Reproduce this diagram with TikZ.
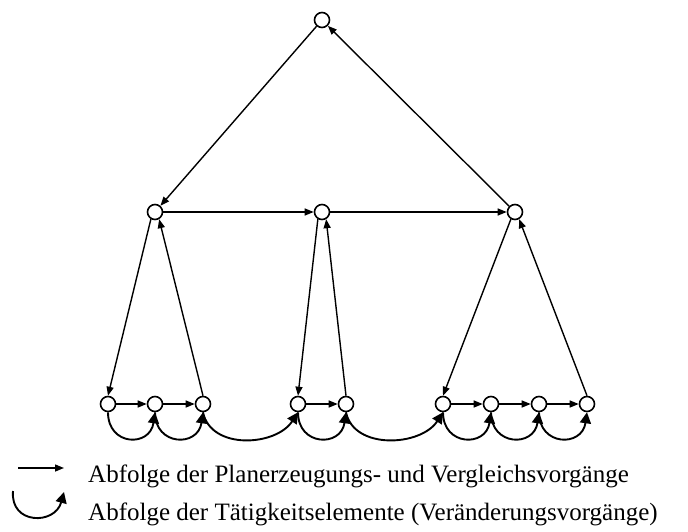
\documentclass[tikz,border=0pt]{standalone}
\usepackage{fontspec}
\setmainfont{Liberation Serif}
\usetikzlibrary{arrows.meta}
\tikzset{
  vtx/.style={circle,draw,line width=1.6pt,minimum size=15pt,inner sep=0pt,fill=white},
  plan/.style={line width=1.4pt,-{Triangle[length=9pt,width=7pt]}},
  act/.style={line width=1.9pt,-{Triangle[length=11pt,width=11pt]}},
  legtext/.style={anchor=base west,inner sep=0pt,font=\fontsize{25}{28}\selectfont}
}
\begin{document}
\begin{tikzpicture}[x=1pt,y=-1pt]
\useasboundingbox (0,0) rectangle (688,532);
\node[vtx] (T) at (322,20) {};
\node[vtx] (M1) at (155,212) {};
\node[vtx] (M2) at (322,212) {};
\node[vtx] (M3) at (515,212) {};
\foreach \n/\x in {1/108,2/155,3/203,4/298,5/346,6/443,7/491,8/539,9/587}
  \node[vtx] (B\n) at (\x,404) {};
% top level
\draw[plan] (T) -- (M1);
\draw[plan] (M3) -- (T);
\draw[plan] (M1) -- (M2);
\draw[plan] (M2) -- (M3);
% middle to bottom
\draw[plan] (M1.-120) -- (B1.north);
\draw[plan] (B3.north) -- (M1.-60);
\draw[plan] (M2.-120) -- (B4.north);
\draw[plan] (B5.north) -- (M2.-60);
\draw[plan] (M3.-120) -- (B6.north);
\draw[plan] (B9.north) -- (M3.-60);
% bottom straight
\draw[plan] (B1) -- (B2);
\draw[plan] (B2) -- (B3);
\draw[plan] (B4) -- (B5);
\draw[plan] (B6) -- (B7);
\draw[plan] (B7) -- (B8);
\draw[plan] (B8) -- (B9);
% activity arcs
\foreach \a/\b in {B1/B2,B2/B3,B4/B5,B6/B7,B7/B8,B8/B9}
  \draw[act] (\a.south) .. controls +(0,34) and +(-5,35) .. (\b.south);
\foreach \a/\b in {B3/B4,B5/B6}
  \draw[act] (\a.south) .. controls +(8,38) and +(-22,34) .. (\b.south);
% legend
\coordinate (l1a) at (18,468);
\coordinate (l1b) at (64,468);
\coordinate (l2a) at (13,491);
\coordinate (l2b) at (64,492);
\draw[plan] (l1a) -- (l1b);
\draw[act] (l2a) .. controls (10,525) and (55,525) .. (l2b);
\node[legtext] (t1) at (88,482) {Abfolge der Planerzeugungs- und Vergleichsvorgänge};
\node[legtext] (t2) at (88,520) {Abfolge der Tätigkeitselemente (Veränderungsvorgänge)};
\end{tikzpicture}
\end{document}
